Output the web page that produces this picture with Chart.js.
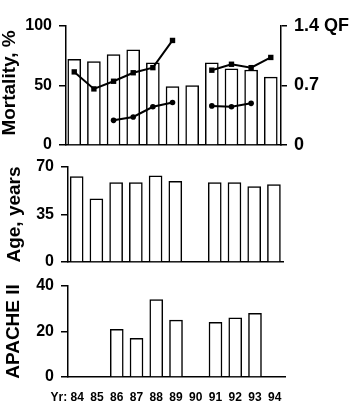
<!DOCTYPE html>
<html>
<head>
<meta charset="utf-8">
<script src="https://cdn.jsdelivr.net/npm/chart.js@4.4.1/dist/chart.umd.min.js"></script>
<style>
  body { margin: 0; background: #fff; }
  #wrap { position: relative; width: 359px; height: 401px; overflow: hidden; }
  canvas { position: absolute; left: 0; }
</style>
</head>
<body>
<div id="wrap">
  <canvas id="mort" width="359" height="160" style="top:0"></canvas>
  <canvas id="age" width="359" height="125" style="top:150px"></canvas>
  <canvas id="apache" width="359" height="136" style="top:265px"></canvas>
</div>
<script>
const years = ["84", "85", "86", "87", "88", "89", "90", "91", "92", "93", "94"];
const mortality = [72, 70, 76, 80, 69, 49, 50, 69, 64, 63, 57];
const qfHigh = [0.86, 0.66, 0.75, 0.85, 0.91, 1.23, null, 0.88, 0.95, 0.91, 1.03];
const qfLow = [null, null, 0.29, 0.33, 0.45, 0.50, null, 0.46, 0.45, 0.49, null];
const age = [63, 46.5, 58.5, 58.5, 63.5, 59.5, null, 58.5, 58.5, 55.5, 57];
const apache = [null, null, 21, 17, 34, 25, null, 24, 26, 28, null];

const mortTicks = [0, 50, 100];
const qfTicks = [0, 0.7, 1.4];
const qfTickLabels = ["0", "0.7", "1.4 QF"];
const ageTicks = [0, 35, 70];
const apacheTicks = [0, 20, 40];

const FONT = '"Liberation Sans", Arial, Helvetica, sans-serif';
Chart.defaults.font.family = FONT;
Chart.defaults.color = "#000";
Chart.defaults.animation = false;

// pin axis sizes so the plot areas of the three panels line up
function fixSize(size) {
    return s => {
        if (s.isHorizontal()) s.height = size; else s.width = size;
        s.paddingTop = s.paddingBottom = s.paddingLeft = s.paddingRight = 0;
    };
}
const points = arr => arr.map((v, i) => ({x: i, y: v}));
const setTicks = list => s => { s.ticks = list.map(v => ({value: v})); };

const sideTitle = {
    id: "sideTitle",
    afterDraw(chart, args, opts) {
        const {ctx, chartArea} = chart;
        ctx.save();
        ctx.translate(opts.x, (chartArea.top + chartArea.bottom) / 2 + (opts.dy || 0));
        ctx.rotate(-Math.PI / 2);
        ctx.font = "bold 19px " + FONT;
        ctx.fillStyle = "#000";
        ctx.textAlign = "center";
        ctx.textBaseline = "middle";
        ctx.fillText(opts.text, 0, 0);
        ctx.restore();
    }
};

const barStyle = {
    type: "bar",
    backgroundColor: "#fff",
    borderColor: "#000",
    borderWidth: 1.5,
    barThickness: 13
};

function leftAxis(min, max, ticks, width) {
    return {
        position: "left", min, max,
        afterBuildTicks: setTicks(ticks),
        ticks: {font: {size: 16, weight: "bold"}, padding: 7, color: "#000"},
        grid: {drawOnChartArea: false, tickLength: 7, color: "#000", lineWidth: 1.5},
        border: {color: "#000", width: 1.5},
        afterFit: fixSize(width)
    };
}

function xAxis(min, max) {
    return {
        type: "linear", min, max, offset: false,
        ticks: {display: false},
        grid: {display: false, drawTicks: false, offset: false},
        border: {color: "#000", width: 1.5},
        afterFit: fixSize(0)
    };
}

new Chart(document.getElementById("mort"), {
    data: {
        datasets: [{
            type: "line",
            data: points(qfHigh),
            yAxisID: "y1",
            borderColor: "#000",
            borderWidth: 2,
            pointStyle: "rect",
            pointRadius: 3.8,
            pointBackgroundColor: "#000",
            pointBorderWidth: 0,
            spanGaps: false,
            order: 0
        }, {
            type: "line",
            data: points(qfLow),
            yAxisID: "y1",
            borderColor: "#000",
            borderWidth: 2,
            pointStyle: "circle",
            pointRadius: 2.8,
            pointBackgroundColor: "#000",
            pointBorderWidth: 0,
            spanGaps: false,
            order: 0
        }, {
            ...barStyle,
            data: points(mortality),
            yAxisID: "y",
            order: 1
        }]
    },
    options: {
        responsive: false,
        events: [],
        layout: {padding: {top: 26, bottom: 15, left: 0, right: 0}},
        plugins: {
            legend: {display: false},
            tooltip: {enabled: false},
            sideTitle: {text: "Mortality, %", x: 10, dy: -2.5}
        },
        scales: {
            x: xAxis(-0.42, 10.52),
            y: leftAxis(0, 100, mortTicks, 66),
            y1: {
                position: "right", min: 0, max: 1.4,
                afterBuildTicks: setTicks(qfTicks),
                ticks: {
                    font: {size: 18, weight: "bold"}, padding: 7, color: "#000",
                    callback: (v, i) => qfTickLabels[i]
                },
                grid: {drawOnChartArea: false, tickLength: 6, color: "#000", lineWidth: 1.5},
                border: {color: "#000", width: 1.5},
                afterFit: fixSize(78)
            }
        }
    },
    plugins: [sideTitle]
});

new Chart(document.getElementById("age"), {
    data: {
        datasets: [{...barStyle, data: points(age)}]
    },
    options: {
        responsive: false,
        events: [],
        layout: {padding: {top: 17, bottom: 13, left: 0, right: 76}},
        plugins: {
            legend: {display: false},
            tooltip: {enabled: false},
            sideTitle: {text: "Age, years", x: 15}
        },
        scales: {
            x: xAxis(-0.44, 10.46),
            y: leftAxis(0, 70, ageTicks, 68)
        }
    },
    plugins: [sideTitle]
});

const yearPrefix = {
    id: "yearPrefix",
    afterDraw(chart) {
        const {ctx, chartArea, scales} = chart;
        ctx.save();
        ctx.font = "bold 12px " + FONT;
        ctx.fillStyle = "#000";
        ctx.textAlign = "right";
        ctx.textBaseline = "middle";
        ctx.fillText("Yr:", scales.x.getPixelForValue(0) - 10, chartArea.bottom + 20.2);
        ctx.restore();
    }
};

new Chart(document.getElementById("apache"), {
    data: {
        datasets: [{...barStyle, data: points(apache)}]
    },
    options: {
        responsive: false,
        events: [],
        layout: {padding: {top: 21, bottom: 0, left: 0, right: 74}},
        plugins: {
            legend: {display: false},
            tooltip: {enabled: false},
            sideTitle: {text: "APACHE II", x: 13.3}
        },
        scales: {
            x: {
                type: "linear", min: -0.47, max: 10.52, offset: false,
                afterBuildTicks: s => { s.ticks = years.map((y, i) => ({value: i})); },
                ticks: {
                    font: {size: 12, weight: "bold"}, padding: 13, color: "#000",
                    autoSkip: false, maxRotation: 0,
                    callback: v => years[v]
                },
                grid: {display: false, drawTicks: false, offset: false},
                border: {color: "#000", width: 1.5},
                afterFit: fixSize(24)
            },
            y: leftAxis(0, 40, apacheTicks, 68)
        }
    },
    plugins: [sideTitle, yearPrefix]
});
</script>
</body>
</html>
